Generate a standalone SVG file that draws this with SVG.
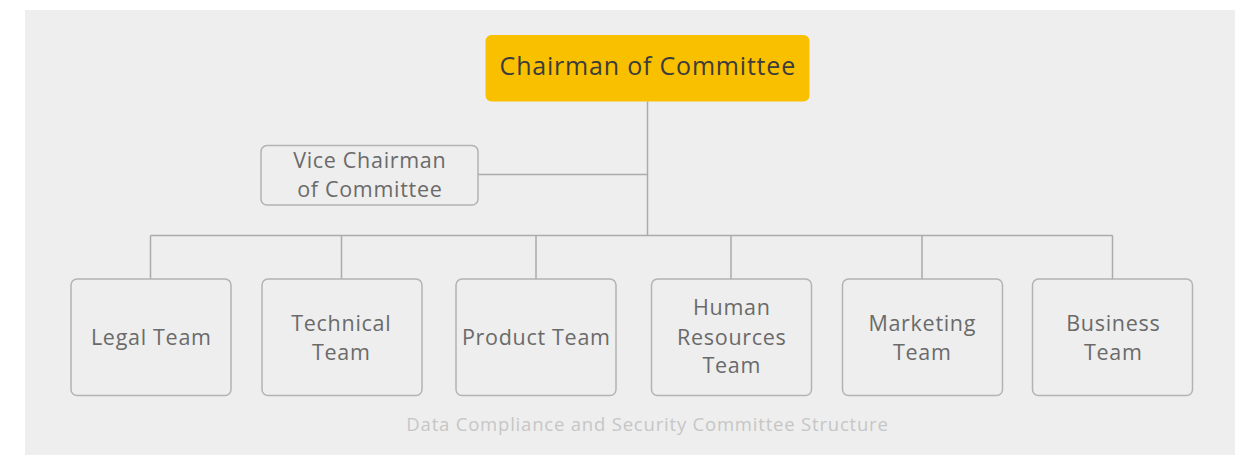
<svg xmlns="http://www.w3.org/2000/svg" width="1243" height="455" viewBox="0 0 1243 455">
<style>
.box{fill:#eeeeee;stroke:#b3b3b3;stroke-width:1.5}
.t{font-family:"Open Sans","Noto Sans",sans-serif;font-size:21.5px;letter-spacing:0.7px;fill:#6a6a6a;text-anchor:middle}
.c{fill:none;stroke:#ababab;stroke-width:1.5}
</style>
<rect x="0" y="0" width="1243" height="455" fill="#ffffff"/>
<rect x="25" y="10" width="1210" height="445" fill="#eeeeee"/>
<g id="connectors">
<path class="c" d="M647.5 101.5V235.5M478 174.5H647.5M150.5 235.5H1112.5M150.5 235.5V279M341.5 235.5V279M536 235.5V279M731 235.5V279M922 235.5V279M1112.5 235.5V279"/>
</g>
<g id="chairman">
<rect x="485.5" y="35" width="324" height="66.5" rx="6" fill="#f9c000"/>
<text x="647.8" y="75" font-family="'Open Sans','Noto Sans',sans-serif" font-size="25" letter-spacing="0.8" fill="#3c3c3c" text-anchor="middle">Chairman of Committee</text>
</g>
<g id="vice">
<rect class="box" x="261" y="145.5" width="217" height="59.5" rx="6"/>
<text class="t" x="369.8" y="168">Vice Chairman</text>
<text class="t" x="369.8" y="196.5">of Committee</text>
</g>
<g id="legal">
<rect class="box" x="71" y="279" width="160" height="116.5" rx="6"/>
<text class="t" x="151.3" y="345">Legal Team</text>
</g>
<g id="technical">
<rect class="box" x="262" y="279" width="160" height="116.5" rx="6"/>
<text class="t" x="341.3" y="331">Technical</text>
<text class="t" x="341.3" y="359.5">Team</text>
</g>
<g id="product">
<rect class="box" x="456" y="279" width="160" height="116.5" rx="6"/>
<text class="t" x="536.3" y="345">Product Team</text>
</g>
<g id="hr">
<rect class="box" x="651.5" y="279" width="160" height="116.5" rx="6"/>
<text class="t" x="731.8" y="315">Human</text>
<text class="t" x="731.8" y="344.5">Resources</text>
<text class="t" x="731.8" y="373">Team</text>
</g>
<g id="marketing">
<rect class="box" x="842.5" y="279" width="160" height="116.5" rx="6"/>
<text class="t" x="922.3" y="331">Marketing</text>
<text class="t" x="922.3" y="359.5">Team</text>
</g>
<g id="business">
<rect class="box" x="1032.5" y="279" width="160" height="116.5" rx="6"/>
<text class="t" x="1113.3" y="331">Business</text>
<text class="t" x="1113.3" y="359.5">Team</text>
</g>
<text x="647.5" y="431" font-family="'Open Sans','Noto Sans',sans-serif" font-size="18.5" letter-spacing="0.8" fill="#c6c6c6" text-anchor="middle">Data Compliance and Security Committee Structure</text>
</svg>
